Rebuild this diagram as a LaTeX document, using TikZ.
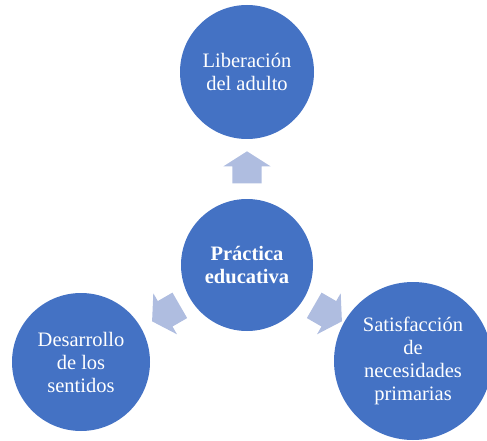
\documentclass[tikz,border=0pt]{standalone}
\usepackage{fontspec}
\setmainfont{Liberation Serif}
\usetikzlibrary{shapes.arrows}
\definecolor{circleblue}{RGB}{68,114,196}
\definecolor{arrowblue}{RGB}{175,189,224}
\newcommand{\bubblefont}{\fontsize{20.5}{23}\selectfont}
\tikzset{
	bubble/.style={circle, fill=circleblue, text=white, align=center, inner sep=0pt, font=\bubblefont},
	blockarrow/.style={single arrow, fill=arrowblue, inner xsep=0pt, inner ysep=14.5pt, minimum height=32pt,
		single arrow head extend=9pt, single arrow tip angle=115}
}
\begin{document}
\begin{tikzpicture}[x=1pt, y=-1pt]
		\useasboundingbox (0,0) rectangle (487,441);

		\node[bubble, minimum size=132pt, font=\bubblefont\bfseries] (P) at (247,265) {Práctica\\educativa};
		\node[bubble, minimum size=134pt] (L) at (247,72) {Liberación\\del adulto};
		\node[bubble, minimum size=138pt] (D) at (81,362) {Desarrollo\\de los\\sentidos};
		\node[bubble, minimum size=158pt] (S) at (413,361) {Satisfacción\\de\\necesidades\\primarias};

		\node[blockarrow, rotate=90] (PL) at (247,172) {};
		\node[blockarrow, rotate=210] (PD) at (170,311) {};
		\node[blockarrow, rotate=-30] (PS) at (324,311) {};
	\end{tikzpicture}
\end{document}
